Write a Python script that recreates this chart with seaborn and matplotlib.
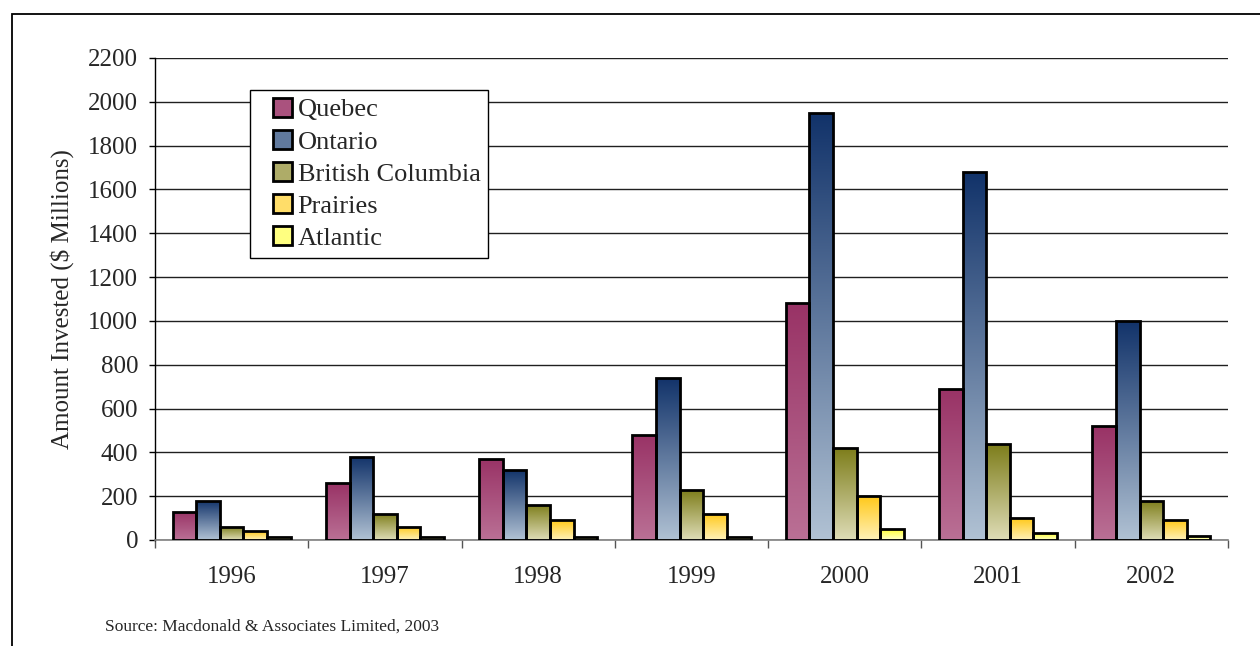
import numpy as np
import pandas as pd
import matplotlib
matplotlib.use("Agg")
import matplotlib.pyplot as plt
import matplotlib.colors as mcolors
from matplotlib.patches import Rectangle, Patch
from matplotlib.legend_handler import HandlerPatch
import seaborn as sns

# ---- data ----
years = ["1996", "1997", "1998", "1999", "2000", "2001", "2002"]
regions = ["Quebec", "Ontario", "British Columbia", "Prairies", "Atlantic"]
quebec = [130, 260, 370, 480, 1080, 690, 520]
ontario = [180, 380, 320, 740, 1950, 1680, 1000]
british_columbia = [60, 120, 160, 230, 420, 440, 180]
prairies = [40, 60, 90, 120, 200, 100, 90]
atlantic = [15, 15, 15, 15, 50, 30, 20]

# gradient colours (top, bottom) per region
top_colors = ["#993366", "#12336a", "#7d7d1a", "#ffc91a", "#ffff33"]
bottom_colors = ["#ba7095", "#b0c1d3", "#dedcb6", "#fff1b8", "#ffffcc"]

df = pd.DataFrame({
    "year": years * 5,
    "region": np.repeat(regions, len(years)),
    "amount": quebec + ontario + british_columbia + prairies + atlantic,
})

# ---- figure ----
sns.set_style("white")
plt.rcParams["font.family"] = ["Liberation Serif", "DejaVu Serif"]
FS = 18

fig = plt.figure(figsize=(12.6, 6.46), dpi=100)
ax = fig.add_axes([155 / 1260, 1 - 540 / 646, (1228 - 155) / 1260, (540 - 58) / 646])

sns.barplot(data=df, x="year", y="amount", hue="region", hue_order=regions,
            order=years, width=0.77, ax=ax, legend=False, saturation=1,
            edgecolor="black", linewidth=2.0, zorder=3)

# gradient fill for each bar, clipped to the bar outline
for cont, ctop, cbot in zip(ax.containers, top_colors, bottom_colors):
    c0 = np.array(mcolors.to_rgba(cbot))
    c1 = np.array(mcolors.to_rgba(ctop))
    t = np.linspace(0, 1, 64)[:, None]
    grad = (c0 * (1 - t) + c1 * t)[:, None, :]
    for bar in cont.patches:
        x0, w, h = bar.get_x(), bar.get_width(), bar.get_height()
        im = ax.imshow(grad, extent=(x0, x0 + w, 0, h), origin="lower",
                       aspect="auto", zorder=2.5, interpolation="bilinear")
        im.set_clip_path(bar)
        bar.set_facecolor("none")

ax.set_xlim(-0.5, len(years) - 0.5)
ax.set_ylim(0, 2200)
ax.set_yticks(np.arange(0, 2201, 200))
ax.yaxis.grid(True, color="#202020", linewidth=1.0, zorder=0)
ax.set_axisbelow(True)

ax.set_xticks(np.arange(-0.5, len(years)), minor=True)
ax.tick_params(axis="x", which="major", length=0, pad=19, labelsize=FS)
ax.tick_params(axis="x", which="minor", length=6, width=1, color="#555555",
               direction="out", bottom=True)
ax.tick_params(axis="y", length=4, width=1, color="black", direction="out",
               pad=8, labelsize=FS, left=True)

ax.set_xlabel("")
ax.set_ylabel("Amount Invested ($ Millions)", fontsize=FS, labelpad=10)

sns.despine(ax=ax, top=True, right=True)
ax.spines["left"].set_color("black")
ax.spines["left"].set_linewidth(1.0)
ax.spines["bottom"].set_color("#808080")
ax.spines["bottom"].set_linewidth(1.2)


# legend with small squares placed with extra left padding
def square_patch(legend, orig_handle, xdescent, ydescent, width, height, fontsize):
    s = 0.72 * fontsize
    return Rectangle((width - s - xdescent, -ydescent + (height - s) / 2), s, s)


handles = [Patch(facecolor=mcolors.to_hex(
                 (np.array(mcolors.to_rgb(a)) + np.array(mcolors.to_rgb(b))) / 2),
                 edgecolor="black", linewidth=2.0) for a, b in zip(top_colors, bottom_colors)]
leg = ax.legend(handles, regions, loc="upper left",
                bbox_to_anchor=((250 - 155) / 1073, (540 - 90) / 482),
                borderaxespad=0, fontsize=19, frameon=True, fancybox=False,
                edgecolor="black", framealpha=1, borderpad=0.3,
                labelspacing=0.33, handlelength=1.3, handletextpad=0.2,
                handler_map={Patch: HandlerPatch(patch_func=square_patch)})
leg.get_frame().set_linewidth(1.0)
leg.set_zorder(5)

# outer frame, cut off at right and bottom
fig.patches.append(Rectangle((12 / 1260, -0.1), 1.2, 0.1 + 1 - 14 / 646,
                             transform=fig.transFigure, fill=False,
                             edgecolor="black", linewidth=1.3))

fig.text(105 / 1260, 1 - 627 / 646, "Source: Macdonald & Associates Limited, 2003",
         fontsize=12.5, va="center", ha="left")

fig.savefig("out.png", dpi=100)
